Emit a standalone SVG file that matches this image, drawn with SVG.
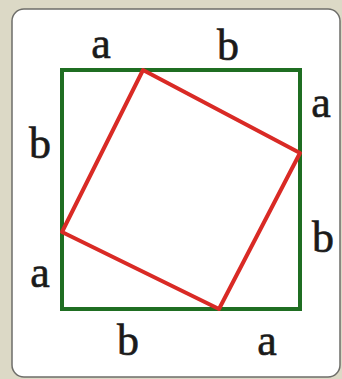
<svg xmlns="http://www.w3.org/2000/svg" width="342" height="379" viewBox="0 0 342 379">
<style>
.lbl{font-size:44px;fill:#1a1a1a;stroke:#1a1a1a;stroke-width:0.6;text-anchor:middle}
.sq{fill:none;stroke:#1f6e22;stroke-width:4}
.tilt{fill:none;stroke:#d92a25;stroke-width:4;stroke-linejoin:round}
</style>
<rect x="0" y="0" width="342" height="379" fill="#dcd9c6"/>
<rect x="12" y="9" width="328" height="368" rx="12" ry="12" fill="#ffffff" stroke="#6e6e6a" stroke-width="1.5"/>
<g id="outer-square"><rect class="sq" x="62" y="70" width="238" height="239"/></g>
<g id="inner-square"><polygon class="tilt" points="143,70 300,153 219,309 62,232"/></g>
<g id="labels" font-family="Liberation Serif, Times New Roman, serif">
<text class="lbl" x="101" y="58">a</text>
<text class="lbl" x="228" y="60">b</text>
<text class="lbl" x="40" y="158">b</text>
<text class="lbl" x="321" y="117">a</text>
<text class="lbl" x="40" y="287">a</text>
<text class="lbl" x="323" y="252">b</text>
<text class="lbl" x="128" y="355">b</text>
<text class="lbl" x="267" y="355">a</text>
</g>
</svg>
